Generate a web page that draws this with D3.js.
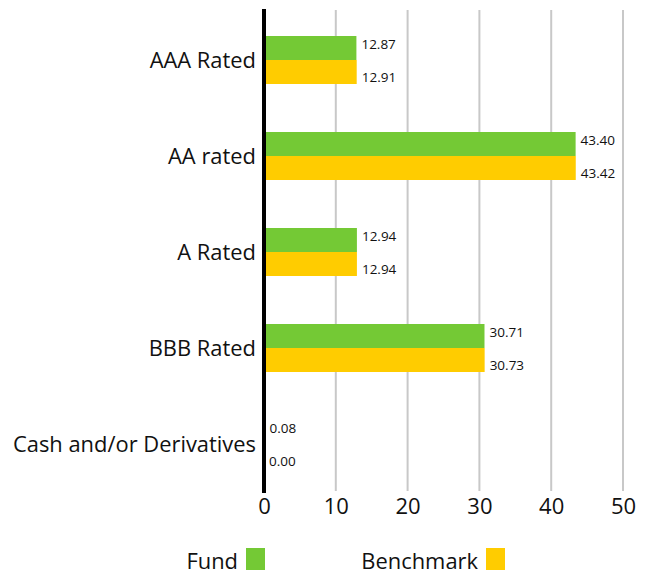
<!DOCTYPE html>
<html>
<head>
<meta charset="utf-8">
<style>
  body { margin: 0; background: #fff; }
  svg text { font-family: "Open Sans", Roboto, sans-serif; fill: #111; }
</style>
</head>
<body>
<svg id="chart"></svg>
<script src="https://cdn.jsdelivr.net/npm/d3@7"></script>
<script>
  var categories = ['AAA Rated', 'AA rated', 'A Rated', 'BBB Rated', 'Cash and/or Derivatives'];
  var fund = [12.87, 43.40, 12.94, 30.71, 0.08];
  var benchmark = [12.91, 43.42, 12.94, 30.73, 0.00];
  var seriesNames = ['Fund', 'Benchmark'];
  var ticks = [0, 10, 20, 30, 40, 50];

  var colors = ['#74c935', '#ffcc00'];
  var width = 652, height = 575;
  var font = '"Open Sans", Roboto, sans-serif';

  var svg = d3.select('#chart').attr('width', width).attr('height', height);

  var x = d3.scaleLinear().domain([0, 50]).range([264, 623]);
  var y = d3.scaleBand().domain(categories).range([12, 492]).paddingInner(0.5).paddingOuter(0.25);
  var sub = d3.scaleBand().domain(seriesNames).range([0, y.bandwidth()]);

  // grid
  svg.append('g').selectAll('line').data(ticks.slice(1))
    .enter().append('line')
      .attr('x1', (d) => x(d)).attr('x2', (d) => x(d))
      .attr('y1', 10).attr('y2', 491)
      .attr('stroke', '#c8c8c8').attr('stroke-width', 2);

  var rows = categories.map((c, i) => ({cat: c, vals: [fund[i], benchmark[i]]}));

  var g = svg.append('g').selectAll('g').data(rows)
    .enter().append('g')
      .attr('transform', (d) => 'translate(0,' + y(d.cat) + ')');

  g.selectAll('rect').data((d) => d.vals)
    .enter().append('rect')
      .attr('x', x(0))
      .attr('y', (d, i) => sub(seriesNames[i]))
      .attr('width', (d) => x(d) - x(0))
      .attr('height', sub.bandwidth())
      .attr('fill', (d, i) => colors[i]);

  g.selectAll('text').data((d) => d.vals)
    .enter().append('text')
      .attr('x', (d) => x(d) + 5)
      .attr('y', (d, i) => sub(seriesNames[i]) + sub.bandwidth() / 2 + (i === 0 ? -4 : 5))
      .attr('dy', '0.35em')
      .attr('font-size', 13.5)
      .text((d) => d.toFixed(2));

  // category labels
  svg.append('g').selectAll('text').data(categories)
    .enter().append('text')
      .attr('x', 256)
      .attr('y', (d) => y(d) + y.bandwidth() / 2)
      .attr('dy', '0.35em')
      .attr('text-anchor', 'end')
      .attr('font-size', 21.9)
      .text((d) => d);

  // axis line
  svg.append('line')
    .attr('x1', x(0)).attr('x2', x(0))
    .attr('y1', 9).attr('y2', 493)
    .attr('stroke', '#000').attr('stroke-width', 4);

  // x tick labels
  var xAxis = svg.append('g').attr('transform', 'translate(0,492)')
    .call(d3.axisBottom(x).tickValues(ticks).tickSize(0).tickPadding(6));
  xAxis.select('.domain').remove();
  xAxis.selectAll('text').attr('font-size', 22).attr('fill', '#111')
    .style('font-family', font);

  // legend
  var legendX = [238, 478];
  var leg = svg.append('g').selectAll('g').data(seriesNames)
    .enter().append('g');
  leg.append('text')
    .attr('x', (d, i) => legendX[i])
    .attr('y', 561)
    .attr('dy', '0.35em')
    .attr('text-anchor', 'end')
    .attr('font-size', 21.9)
    .text((d) => d);
  leg.append('rect')
    .attr('x', (d, i) => legendX[i] + 8)
    .attr('y', 548)
    .attr('width', 19).attr('height', 22)
    .attr('fill', (d, i) => colors[i]);
</script>
</body>
</html>
